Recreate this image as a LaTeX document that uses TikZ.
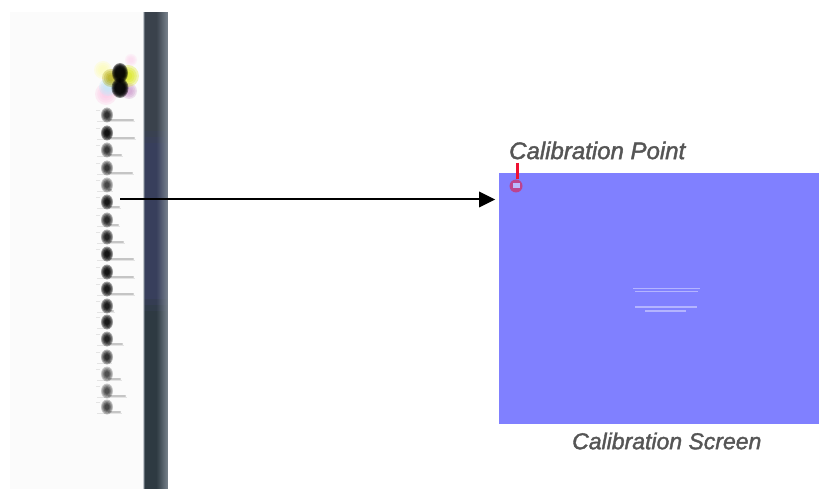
\documentclass[tikz,border=0pt]{standalone}
\usepackage{fontspec}
\setmainfont{Liberation Sans}
\newfontfamily\capfont[FakeBold=1.6,ItalicFeatures={FakeBold=1.6}]{Liberation Sans}
\definecolor{panel}{HTML}{FBFBFB}
\definecolor{screenblue}{HTML}{8080FF}
\definecolor{barA}{HTML}{3A424C}
\definecolor{barB}{HTML}{383F5C}
\definecolor{barC}{HTML}{2E3A42}
\definecolor{barEdge}{HTML}{808A94}
\definecolor{capgray}{HTML}{555555}
\definecolor{callred}{HTML}{EE1133}
\definecolor{paleline}{HTML}{B4B4FF}
\tikzset{
  x=1pt,y=-1pt,
  caption/.style={text=capgray,inner sep=0pt},
  screenbox/.style={fill=screenblue,draw=none,minimum width=320pt,minimum height=251pt,inner sep=0pt},
  notehalo/.style={draw=black!30,line width=0.7pt,opacity=0.3},
  smudge/.style={draw=black!40,line width=2.4pt,opacity=0.55,line cap=round},
  paletext/.style={draw=paleline,line width=1.8pt},
  flow/.style={draw=black,line width=2pt},
  flowhead/.style={fill=black,draw=none}
}
\begin{document}
\begin{tikzpicture}
\useasboundingbox (0,0) rectangle (819,489);
\fill[white] (0,0) rectangle (819,489);
% panel
\fill[panel] (10,12) rectangle (144,489);
% dark bar in horizontal bands with flat vertical strips
\foreach \ya/\yb/\bc in {12/132/barA,131/138/barA!66!barB,137/144/barA!33!barB,143/300/barB,299/306/barB!66!barC,305/312/barB!33!barC,311/489/barC}{
  \colorlet{bandcol}{\bc}
  \fill[bandcol] (145,\ya) rectangle (157,\yb);
  \fill[panel!55!barEdge] (143,\ya) rectangle (144,\yb);
  \fill[barEdge!60!bandcol] (144,\ya) rectangle (145,\yb);
  \foreach \sx/\sm in {157/6,158/12,159/20,160/28,161/36,162/44,163/52,164/60,165/68,166/76,167/84}{
    \fill[barEdge!\sm!bandcol] (\sx,\ya) rectangle (\sx+1.2,\yb);
  }
}
\fill[white] (140,0) rectangle (170,12);
% top icon colours
\foreach \cx/\cy/\cr/\cc in {106/94/11/magenta!22,108/87/9/cyan!25,103/70/9/yellow!30,131/60/6/magenta!15,129/91/8/violet!40,128/76/11/yellow!85!green,111/78/9/olive!70!yellow}{
  \foreach \k in {1,0.8,0.6,0.4}{
    \fill[\cc,opacity=.3] (\cx,\cy) circle ({\cr*\k});
  }
}
% top icon core
\foreach \k in {1,0.9,0.8,0.7,0.6}{
  \fill[black,opacity=.45] (120,73) ellipse ({8*\k} and {10*\k});
  \fill[black,opacity=.45] (120,88) ellipse ({8.5*\k} and {10*\k});
}
% list rows
\foreach \ry/\rlen/\rd in {115/135/70,133/136/100,150/123/65,168/134/65,185/113/55,202/121/90,220/120/75,237/125/80,254/135/95,272/135/95,289/135/90,306/115/85,322/110/90,339/124/80,357/112/70,374/122/50,391/127/50,407/122/55}{
  \draw[notehalo] (96,\ry-5) -- (100,\ry-5);
  \draw[notehalo] (97,\ry+6) -- (\rlen,\ry+6);
  \draw[smudge] (109,\ry+5) -- (\rlen-2,\ry+5);
  \pgfmathsetmacro{\rop}{0.4*\rd/100}
  \foreach \k in {1,0.85,0.7,0.55,0.4}{
    \fill[black,opacity=\rop] (107,\ry) ellipse ({6*\k} and {7.5*\k});
  }
}
% screen
\node[screenbox,anchor=north west] (calscreen) at (499,173) {};
% faint screen text
\draw[paletext] (633,288.5) -- (700,288.5);
\draw[paletext] (635,291.5) -- (698,291.5);
\draw[paletext] (635,307) -- (697,307);
\draw[paletext] (645,311) -- (686,311);
% calibration point
\coordinate (calpoint) at (516,186);
\coordinate (caltop) at (517,163);
\draw[callred,line width=3pt] (caltop) -- (517,179);
\fill[callred,opacity=.55] (calpoint) circle (6.5);
\fill[screenblue!55!white] (512.5,183.5) rectangle (519.5,188.5);
% captions
\node[caption,anchor=west,font=\capfont\itshape\fontsize{24}{24}\selectfont] (pointlabel) at (509,150.5) {Calibration Point};
\node[caption,anchor=west,font=\capfont\itshape\fontsize{23}{23}\selectfont] (screenlabel) at (572,441) {Calibration Screen};
% connector
\coordinate (rowsix) at (120,199.5);
\coordinate (arrowtip) at (495,199.5);
\draw[flow] (rowsix) -- (480,199.5);
\fill[flowhead] (arrowtip) -- (479,191.5) -- (479,207.5) -- cycle;
\end{tikzpicture}
\end{document}
